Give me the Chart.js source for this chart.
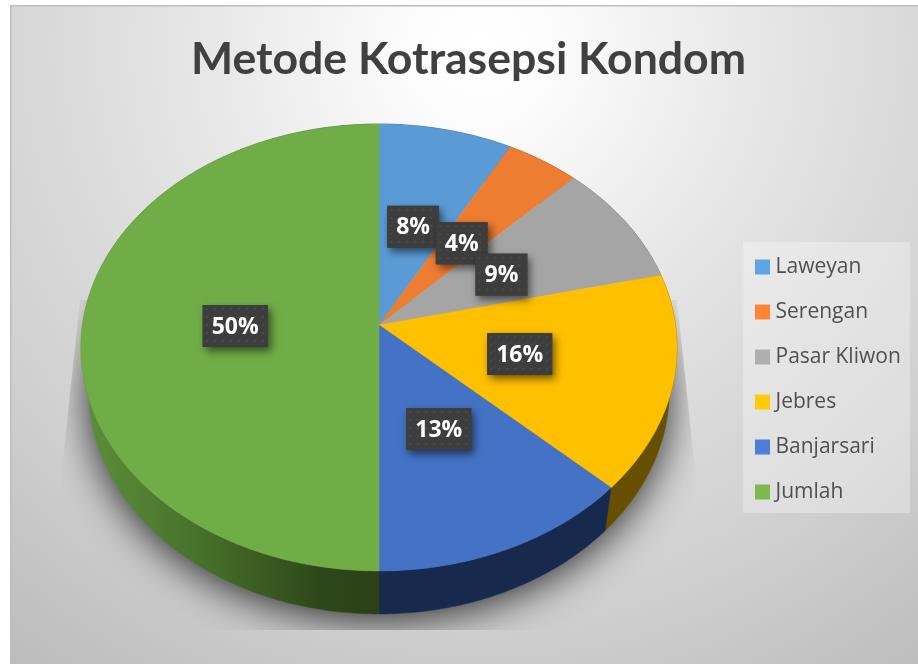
<!DOCTYPE html>
<html><head><meta charset="utf-8">
<style>html,body{margin:0;padding:0;background:#fff}canvas{display:block}</style>
<script src="https://cdn.jsdelivr.net/npm/chart.js@4"></script>
</head><body>
<div style="width:918px;height:664px;position:relative"><canvas id="c" width="918" height="664"></canvas></div>
<script>
const titleText = 'Metode Kotrasepsi Kondom';
const categories = ['Laweyan','Serengan','Pasar Kliwon','Jebres','Banjarsari','Jumlah'];
const values = [8, 4.4, 8.9, 15.7, 13, 50];
const pieColors = ['#5b9bd5','#ed7d31','#a5a5a5','#ffc000','#4472c4','#70ad47'];
const legendColors = ['#5fa5e3','#ff8534','#afafaf','#ffca08','#4f7ed8','#7cba50'];
const wallColors = ['#2d4a66','#6b3a17','#505050','#665000','#172a4e','#3a5a22'];

// perspective of the tilted disc
const TILT = -0.1007, ASPECT = 221.2/296.5, DEPTH = 43, BOTTOM_SCALE = 0.974;
function project(el, angle, f){
  const X = Math.cos(angle)*f, Y = Math.sin(angle)*f, d = 1 + TILT*Y;
  return {x: el.x + el.outerRadius*X/d, y: el.y + el.outerRadius*ASPECT*Y/d};
}
function lower(el, p){ return {x: el.x + (p.x-el.x)*BOTTOM_SCALE, y: p.y + DEPTH}; }
function arcPts(el, a0, a1){
  const n = Math.max(2, Math.ceil((a1-a0)/0.01)), pts=[];
  for(let i=0;i<=n;i++) pts.push(project(el, a0+(a1-a0)*i/n, 1));
  return pts;
}
Chart.ArcElement.prototype.draw = function(ctx){
  const col = this.options.backgroundColor;
  ctx.save();
  ctx.beginPath();
  ctx.moveTo(this.x, this.y);
  arcPts(this, this.startAngle, this.endAngle).forEach(p=>ctx.lineTo(p.x,p.y));
  ctx.closePath();
  ctx.fillStyle = col; ctx.fill();
  ctx.strokeStyle = col; ctx.lineWidth = 0.5; ctx.stroke();
  ctx.restore();
};

function dotPattern(ctx){
  const t = document.createElement('canvas'); t.width = 8; t.height = 8;
  const g = t.getContext('2d');
  g.fillStyle = '#3d3d3d'; g.fillRect(0,0,8,8);
  g.fillStyle = '#4c4c4c'; g.beginPath(); g.arc(4,4,1.2,0,Math.PI*2); g.fill();
  return ctx.createPattern(t,'repeat');
}

const scene = {
  id:'scene',
  afterLayout(chart){
    const a = chart.chartArea, R = 296.5, cx = 379, cy = 325;
    a.left = cx-R; a.right = cx+R; a.top = cy-R; a.bottom = cy+R; a.width = a.height = 2*R;
    const t = chart.titleBlock;
    t.left = 10+4.5; t.right = 918+4.5; t.top = 33; t.bottom = t.top + t.height;
    const l = chart.legend, pad = l.options.labels.padding;
    const w = l.width, h = l.height;
    l.left = 760 - pad; l.right = l.left + w; l.top = 256.5 - pad; l.bottom = l.top + h;
  },
  beforeDraw(chart){
    const ctx = chart.ctx;
    ctx.save();
    const g = ctx.createRadialGradient(480,50,0,480,50,780);
    g.addColorStop(0,'#ffffff'); g.addColorStop(0.08,'#fdfdfd'); g.addColorStop(0.34,'#e8e8e8'); g.addColorStop(0.54,'#dadada'); g.addColorStop(0.72,'#d0d0d0'); g.addColorStop(0.9,'#c2c2c2'); g.addColorStop(1,'#bcbcbc');
    ctx.fillStyle = g; ctx.fillRect(10,5,908,659);
    ctx.fillStyle = '#bdbdbd'; ctx.fillRect(10,5,908,1.5); ctx.fillRect(10,5,1.5,659);
    ctx.fillStyle = 'rgba(255,255,255,0.3)'; ctx.fillRect(743,242,167,271);
    ctx.restore();
  },
  beforeDatasetsDraw(chart){
    const ctx = chart.ctx, arcs = chart.getDatasetMeta(0).data;
    const el = arcs[0];
    const full = arcPts(el, 0, Math.PI*2);
    // soft shadow
    ctx.save();
    ctx.beginPath();
    ctx.moveTo(80,300); ctx.lineTo(62,470); ctx.lineTo(62,630); ctx.lineTo(695,630); ctx.lineTo(695,470); ctx.lineTo(677,300); ctx.closePath();
    ctx.clip();
    ctx.shadowColor = 'rgba(0,0,0,0.8)'; ctx.shadowBlur = 40; ctx.shadowOffsetY = 6;
    ctx.fillStyle = '#888';
    ctx.beginPath();
    full.map(p=>lower(el,p)).forEach((p,i)=> i?ctx.lineTo(p.x,p.y):ctx.moveTo(p.x,p.y));
    ctx.closePath(); ctx.fill();
    ctx.restore();
    // side wall
    arcs.forEach((a,i)=>{
      const top = arcPts(a, a.startAngle, a.endAngle);
      const bot = top.map(p=>lower(a,p)).reverse();
      ctx.save();
      ctx.beginPath();
      top.concat(bot).forEach((p,k)=> k?ctx.lineTo(p.x,p.y):ctx.moveTo(p.x,p.y));
      ctx.closePath();
      let fill = wallColors[i];
      if(i===5){
        const g = ctx.createLinearGradient(85,0,a.x,0);
        g.addColorStop(0,'#5b8f39'); g.addColorStop(0.4,'#46702b'); g.addColorStop(0.8,'#2e4719'); g.addColorStop(1,'#2b4017');
        fill = g;
      }
      ctx.fillStyle = fill; ctx.strokeStyle = fill; ctx.lineWidth = 0.5;
      ctx.fill(); ctx.stroke();
      ctx.restore();
    });
  },
  afterDatasetsDraw(chart){
    const ctx = chart.ctx, arcs = chart.getDatasetMeta(0).data;
    const total = values.reduce((s,v)=>s+v,0);
    const pat = dotPattern(ctx);
    ctx.font = 'bold 23px "Open Sans"';
    ctx.textAlign = 'center'; ctx.textBaseline = 'middle';
    arcs.forEach((a,i)=>{
      const p = project(a, (a.startAngle+a.endAngle)/2, 0.485);
      const txt = Math.round(values[i]/total*100)+'%';
      const w = ctx.measureText(txt).width + 18, h = 42;
      const cy = p.y + 1;
      ctx.save();
      ctx.shadowColor = 'rgba(0,0,0,0.55)'; ctx.shadowBlur = 8; ctx.shadowOffsetX = 3; ctx.shadowOffsetY = 4;
      ctx.fillStyle = '#3d3d3d';
      ctx.fillRect(p.x-w/2, cy-h/2, w, h);
      ctx.restore();
      ctx.save();
      ctx.translate(p.x-w/2, cy-h/2);
      ctx.fillStyle = pat; ctx.fillRect(0,0,w,h);
      ctx.restore();
      ctx.fillStyle = '#ffffff';
      ctx.fillText(txt, p.x, cy+1);
    });
  }
};

new Chart(document.getElementById('c'),{
  type:'pie',
  data:{labels:categories,datasets:[{data:values,backgroundColor:pieColors,borderWidth:0}]},
  plugins:[scene],
  options:{
    responsive:false,animation:false,
    plugins:{
      tooltip:{enabled:false},
      title:{display:true,text:titleText,color:'#404040',font:{family:'Lato',size:44.6,weight:'bold'},padding:0},
      legend:{display:true,position:'right',align:'start',
        labels:{boxWidth:5,boxHeight:5,padding:24,color:'#505050',font:{family:'"Open Sans"',size:21},
          generateLabels:(c)=>categories.map((t,i)=>({text:t,fillStyle:legendColors[i],strokeStyle:legendColors[i],lineWidth:10,index:i,fontColor:'#505050'}))}
      }
    }
  }
});
</script>
</body></html>
